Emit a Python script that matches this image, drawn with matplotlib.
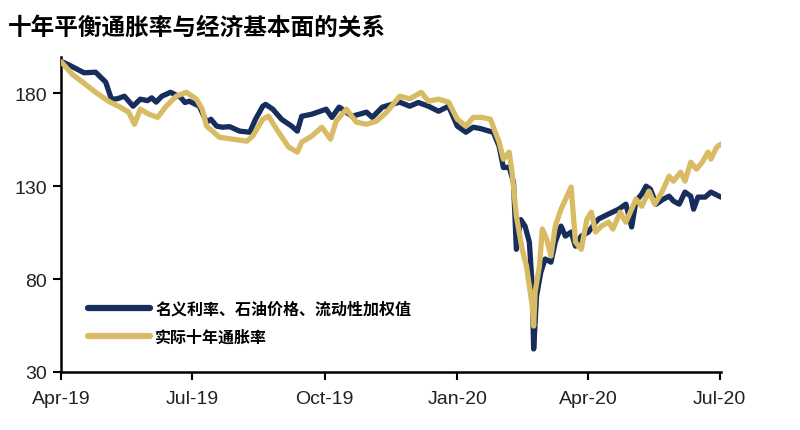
import matplotlib
matplotlib.use("Agg")
import matplotlib.pyplot as plt
import pandas as pd

title = "十年平衡通胀率与经济基本面的关系"
label_nominal = "名义利率、石油价格、流动性加权值"
label_real = "实际十年通胀率"

nominal_dates = [
    "2019-04-01", "2019-04-07", "2019-04-17", "2019-04-25", "2019-04-30", "2019-05-02",
    "2019-05-06", "2019-05-10", "2019-05-15", "2019-05-21", "2019-05-26", "2019-05-31",
    "2019-06-03", "2019-06-06", "2019-06-10", "2019-06-16", "2019-06-23", "2019-06-26",
    "2019-06-29", "2019-07-06", "2019-07-11", "2019-07-14", "2019-07-18", "2019-07-22",
    "2019-07-27", "2019-08-03", "2019-08-10", "2019-08-14", "2019-08-19", "2019-08-21",
    "2019-08-26", "2019-09-01", "2019-09-08", "2019-09-12", "2019-09-15", "2019-09-22",
    "2019-10-02", "2019-10-06", "2019-10-11", "2019-10-20", "2019-10-30", "2019-11-03",
    "2019-11-10", "2019-11-22", "2019-11-29", "2019-12-05", "2019-12-12", "2019-12-19",
    "2019-12-26", "2020-01-01", "2020-01-07", "2020-01-12", "2020-01-17", "2020-01-23",
    "2020-01-26", "2020-01-30", "2020-02-02", "2020-02-06", "2020-02-09", "2020-02-11",
    "2020-02-14", "2020-02-17", "2020-02-20", "2020-02-22", "2020-02-23", "2020-02-25",
    "2020-02-28", "2020-03-02", "2020-03-06", "2020-03-09", "2020-03-13", "2020-03-16",
    "2020-03-20", "2020-03-23", "2020-03-27", "2020-04-01", "2020-04-06", "2020-04-08",
    "2020-04-15", "2020-04-22", "2020-04-27", "2020-05-01", "2020-05-04", "2020-05-08",
    "2020-05-11", "2020-05-14", "2020-05-18", "2020-05-23", "2020-05-27", "2020-05-30",
    "2020-06-03", "2020-06-07", "2020-06-11", "2020-06-13", "2020-06-16", "2020-06-21",
    "2020-06-25", "2020-07-02",
]
nominal_values = [
    197.2, 195, 191, 191.3, 187.5, 186,
    176.8, 177, 178.4, 173, 176.8, 176,
    177.5, 175.2, 178.4, 180.5, 177.8, 175,
    175.7, 173, 164.4, 166, 162.3, 161.7,
    162, 159.6, 159, 166, 173, 174,
    171.4, 166, 162.3, 159.6, 167.6, 168.7,
    171.4, 167, 172.5, 167.6, 169.8, 167,
    172.5, 175.2, 173, 175, 173, 170.3,
    173, 162.3, 159, 161.7, 161, 159.6,
    159, 151.5, 140, 140.2, 132, 96,
    112, 108.5, 99.9, 76.2, 42.4, 70.9,
    83.8, 90.8, 89.1, 99.9, 108.5, 103.1,
    105.3, 97.7, 103.1, 105.3, 110.6, 112.3,
    115, 117.6, 120.3, 108, 122, 125.7,
    130, 128.4, 120.3, 123, 124.6, 122,
    120.3, 126.8, 124.6, 117.6, 124.1, 124.1,
    126.8, 124.1,
]

real_dates = [
    "2019-04-01", "2019-04-09", "2019-04-16", "2019-04-25", "2019-05-05", "2019-05-11",
    "2019-05-18", "2019-05-22", "2019-05-26", "2019-06-01", "2019-06-07", "2019-06-13",
    "2019-06-20", "2019-06-27", "2019-07-04", "2019-07-08", "2019-07-11", "2019-07-20",
    "2019-07-29", "2019-08-08", "2019-08-12", "2019-08-19", "2019-08-23", "2019-08-30",
    "2019-09-06", "2019-09-12", "2019-09-15", "2019-09-22", "2019-09-29", "2019-10-05",
    "2019-10-09", "2019-10-16", "2019-10-23", "2019-10-30", "2019-11-06", "2019-11-13",
    "2019-11-22", "2019-11-29", "2019-12-07", "2019-12-12", "2019-12-19", "2019-12-26",
    "2020-01-01", "2020-01-07", "2020-01-12", "2020-01-18", "2020-01-24", "2020-01-30",
    "2020-02-02", "2020-02-06", "2020-02-08", "2020-02-11", "2020-02-15", "2020-02-18",
    "2020-02-22", "2020-02-23", "2020-02-24", "2020-02-27", "2020-02-29", "2020-03-03",
    "2020-03-06", "2020-03-09", "2020-03-13", "2020-03-20", "2020-03-23", "2020-03-27",
    "2020-03-31", "2020-04-03", "2020-04-06", "2020-04-10", "2020-04-15", "2020-04-18",
    "2020-04-23", "2020-04-27", "2020-05-04", "2020-05-08", "2020-05-13", "2020-05-17",
    "2020-05-22", "2020-05-27", "2020-05-30", "2020-06-04", "2020-06-07", "2020-06-11",
    "2020-06-15", "2020-06-19", "2020-06-23", "2020-06-25", "2020-06-29", "2020-07-02",
]
real_values = [
    197, 190, 186, 180.5, 175.2, 173,
    169.8, 163.3, 171.4, 168.7, 167, 173,
    178.4, 180.5, 176.8, 171.4, 162.3, 156.3,
    155.3, 154.2, 156.9, 166, 167.6, 159,
    151, 148.3, 153.7, 156.9, 161.7, 155.3,
    165, 171.4, 164.4, 163.3, 165, 169.8,
    178.4, 177, 180.5, 175.7, 176.8, 175.2,
    166, 162.3, 167, 167, 166, 153.7,
    144.5, 148.3, 137.5, 113.9, 96, 87,
    65.5, 54.7, 73, 87, 106.9, 101.5,
    92.4, 108.5, 117.6, 129.5, 99.9, 96,
    112.3, 116, 105.3, 108.5, 110.6, 106.9,
    116, 110.6, 123, 119.2, 127.3, 120.3,
    126.8, 135.4, 132.7, 137.5, 132.7, 142.9,
    139.1, 142.9, 148.3, 144.5, 151, 152.6,
]

tick_dates = ["2019-04-01", "2019-07-01", "2019-10-01", "2020-01-01", "2020-04-01", "2020-07-01"]
tick_labels = ["Apr-19", "Jul-19", "Oct-19", "Jan-20", "Apr-20", "Jul-20"]
y_ticks = [30, 80, 130, 180]

navy = "#172d5c"
gold = "#d8bb64"

fig = plt.figure(figsize=(8.0, 4.31), dpi=100)
ax = fig.add_axes([0.07625, 0.1346, 0.825, 0.7309])

ax.plot(pd.to_datetime(nominal_dates), nominal_values, color=navy, lw=3.8,
        solid_joinstyle="round", solid_capstyle="round", label=label_nominal, zorder=2)
ax.plot(pd.to_datetime(real_dates), real_values, color=gold, lw=3.8,
        solid_joinstyle="round", solid_capstyle="round", label=label_real, zorder=3)

ax.set_xlim(pd.Timestamp("2019-04-01"), pd.Timestamp("2020-07-02"))
ax.set_ylim(30, 199.5)
ax.set_xticks(pd.to_datetime(tick_dates))
ax.set_xticklabels(tick_labels)
ax.set_yticks(y_ticks)

for s in ["top", "right"]:
    ax.spines[s].set_visible(False)
for s in ["left", "bottom"]:
    ax.spines[s].set_linewidth(1.8)
    ax.spines[s].set_color("black")

ax.tick_params(axis="both", direction="out", length=6, width=1.5, colors="black",
               labelcolor="#222222")
ax.tick_params(axis="x", pad=7)
ax.tick_params(axis="y", pad=4)
for lab in ax.get_xticklabels() + ax.get_yticklabels():
    lab.set_fontfamily("Liberation Sans")
    lab.set_fontsize(14)

leg = ax.legend(loc="center left", bbox_to_anchor=(0.041, 0.156), frameon=False,
                borderpad=0, borderaxespad=0, handlelength=3.9, handletextpad=0.3,
                labelspacing=0.75,
                prop={"family": ["Noto Sans CJK SC", "DejaVu Sans"], "size": 11.5,
                      "weight": "bold"})
for line in leg.get_lines():
    line.set_linewidth(4.5)

fig.text(0.01, 0.935, title, fontsize=17, fontweight="bold",
         family=["Noto Sans CJK SC", "DejaVu Sans"], va="center", ha="left", color="black")

fig.savefig("out.png", dpi=100, facecolor="white")
